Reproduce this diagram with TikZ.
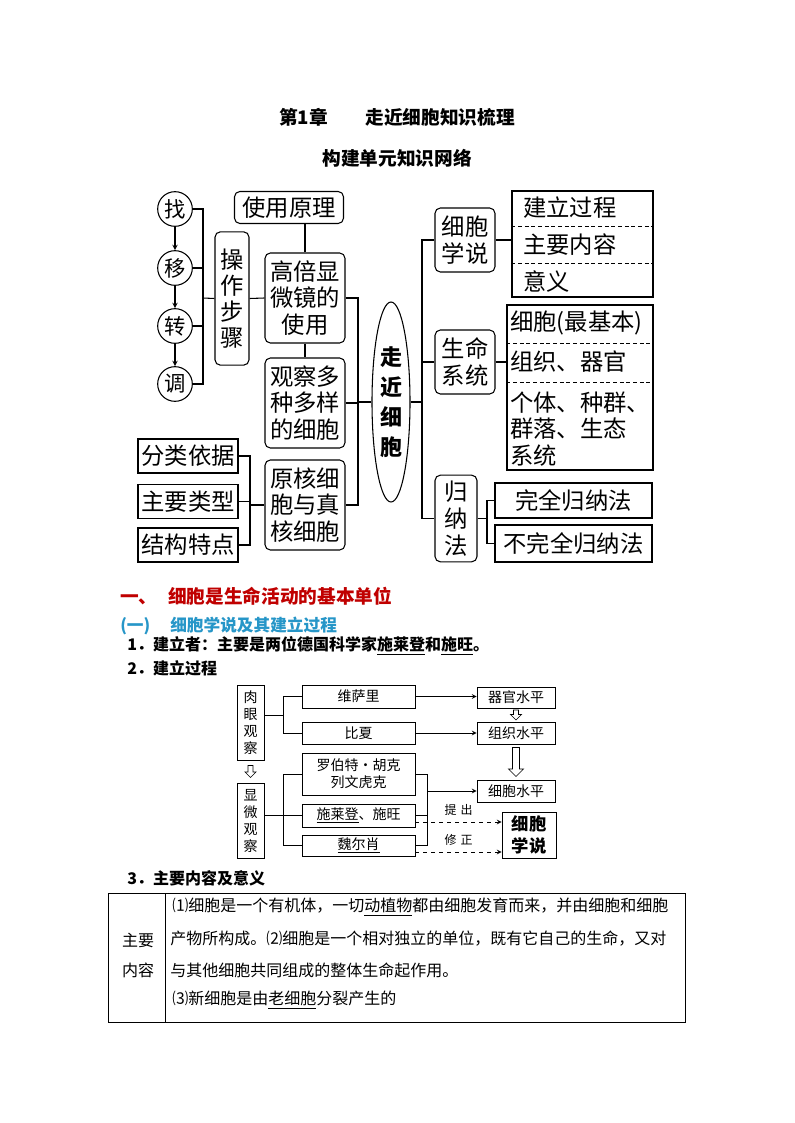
\documentclass[tikz,border=0pt]{standalone}
\usepackage{fontspec}
\setmainfont{Noto Sans CJK SC}
\usetikzlibrary{arrows,calc,shapes.geometric}

\definecolor{headred}{RGB}{192,0,0}
\definecolor{headblue}{RGB}{38,150,200}

\newcommand{\mapfont}{\fontsize{17.5}{20}\selectfont}
\newcommand{\flowfont}{\fontsize{10.5}{12.75}\selectfont}
\newcommand{\parafont}{\fontsize{12}{14}\selectfont}

\begin{document}
\begin{tikzpicture}[x=0.75pt, y=-0.75pt,
  rbox/.style={draw, rounded corners=4pt, line width=0.8pt, inner sep=0pt, align=center, font=\mapfont},
  sbox/.style={draw, line width=0.8pt, inner sep=0pt, align=center, font=\mapfont},
  cbox/.style={draw, circle, line width=0.8pt, minimum size=26pt, inner sep=0pt, font=\fontsize{16}{16}\selectfont},
  mapt/.style={anchor=west, inner sep=0pt, align=left, font=\mapfont},
  link/.style={line width=0.8pt},
  sep/.style={line width=0.7pt, dash pattern=on 3pt off 2pt},
  fbox/.style={draw, line width=0.6pt, inner sep=0pt, align=center, font=\flowfont},
  flink/.style={line width=0.6pt},
  farrow/.style={->, >=stealth, line width=0.6pt},
  para/.style={anchor=west, inner sep=0pt, font=\parafont},
  pics/dnarrow/.style n args={3}{code={
    \draw[line width=0.5pt, fill=white] (-#2,-#1) -- (#2,-#1) -- (#2,#1-#3) -- (#3,#1-#3)
      -- (0,#1) -- (-#3,#1-#3) -- (-#2,#1-#3) -- cycle;
  }}
]
\path[fill=white] (0,0) rectangle (794,1123);

% Titles
\node[font=\bfseries\fontsize{14}{14}\selectfont] (title) at (397,117) {第1章\hspace{28pt}走近细胞知识梳理};
\node[font=\bfseries\fontsize{14}{14}\selectfont] (subtitle) at (397,158) {构建单元知识网络};

% Steps on the left
\node[cbox] (zhao) at (175,209) {找};
\node[cbox] (yi) at (175,268) {移};
\node[cbox] (zhuan) at (175,326) {转};
\node[cbox] (tiao) at (175,384) {调};
\draw[link, ->, >=stealth] (zhao) -- (yi);
\draw[link, ->, >=stealth] (yi) -- (zhuan);
\draw[link, ->, >=stealth] (zhuan) -- (tiao);
\coordinate (jl) at (203,298);
\foreach \n in {zhao,yi,zhuan,tiao}
  \draw[link] (\n.east) -| (jl);
\node[rbox, minimum width=25.5pt, minimum height=100pt, font=\fontsize{17.5}{19.5}\selectfont] (steps) at (232,298.5) {操\\作\\步\\骤};
\draw[link] (jl) -- (steps.west);

% Microscope column
\node[rbox, minimum width=81.75pt, minimum height=24pt] (principle) at (289,207.5) {使用原理};
\node[rbox, minimum width=60pt, minimum height=67.5pt] (hipower) at (305,298) {高倍显\\微镜的\\使用};
\node[rbox, minimum width=60pt, minimum height=67.5pt] (observe) at (305,403) {观察多\\种多样\\的细胞};
\node[rbox, minimum width=60pt, minimum height=67.5pt] (prokary) at (305,505) {原核细\\胞与真\\核细胞};
\draw[link] (steps.east) -- (hipower.west);
\draw[link] (hipower.north) -- (hipower.north |- principle.south);
\draw[link] (hipower.south) -- (observe.north);

% Cell types
\node[sbox, minimum width=75pt, minimum height=25.5pt] (basis) at (188,456) {分类依据};
\node[sbox, minimum width=75pt, minimum height=25.5pt] (types) at (188,501.5) {主要类型};
\node[sbox, minimum width=75pt, minimum height=25.5pt] (feature) at (188,545) {结构特点};
\coordinate (jp) at (250,505);
\foreach \n in {basis,types,feature}
  \draw[link] (\n.east) -| (jp);
\draw[link] (jp) -- (prokary.west);

% Centre
\node[ellipse, draw, line width=0.8pt, minimum width=28.5pt, minimum height=150pt, inner sep=0pt, align=center,
  font=\bfseries\fontsize{16.5}{22.5}\selectfont] (core) at (391,402) {走\\近\\细\\胞};
\coordinate (jm) at (358,402);
\foreach \n in {hipower,observe,prokary}
  \draw[link] (\n.east) -| (jm);
\draw[link] (jm) -- (core.west);

% Right branches
\coordinate (jr) at (422,402);
\draw[link] (core.east) -- (jr);
\node[rbox, minimum width=45pt, minimum height=48pt] (theory) at (465,240) {细胞\\学说};
\node[rbox, minimum width=45pt, minimum height=48pt] (system) at (465,362) {生命\\系统};
\node[rbox, minimum width=31.5pt, minimum height=65pt] (induct) at (456,518.5) {归\\纳\\法};
\foreach \n in {theory,system,induct}
  \draw[link] (jr) |- (\n.west);

\node[sbox, minimum width=105.75pt, minimum height=79.5pt] (grp1) at (582.5,244) {};
\draw[link] (theory.east) -- (theory.east -| grp1.west);
\foreach \y in {226,263}
  \draw[sep] (grp1.west |- 0,\y) -- (grp1.east |- 0,\y);
\node[mapt] (build) at (523,208) {建立过程};
\node[mapt] (content) at (523,245) {主要内容};
\node[mapt] (meaning) at (523,282) {意义};

\node[sbox, minimum width=109.5pt, minimum height=123.75pt] (grp2) at (580,387.5) {};
\draw[link] (system.east) -- (system.east -| grp2.west);
\foreach \y in {343,382}
  \draw[sep] (grp2.west |- 0,\y) -- (grp2.east |- 0,\y);
\node[mapt] (cellbase) at (510,323) {细胞(最基本)};
\node[mapt] (organs) at (510,362) {组织、器官};
\node[mapt] (higher) at (510,429) {个体、种群、\\群落、生态\\系统};

\node[sbox, minimum width=117.75pt, minimum height=26.25pt] (full) at (573.5,500.5) {完全归纳法};
\node[sbox, minimum width=117.75pt, minimum height=27.75pt] (partial) at (573.5,543.5) {不完全归纳法};
\coordinate (jn) at (487,518.5);
\draw[link] (induct.east) -- (jn);
\draw[link] (jn) |- (full.west);
\draw[link] (jn) |- (partial.west);

% Headings
\node[anchor=west, inner sep=0pt, text=headred, font=\bfseries\fontsize{14}{14}\selectfont] (sec1) at (120,596) {一、\hspace{8pt}细胞是生命活动的基本单位};
\node[anchor=west, inner sep=0pt, text=headblue, font=\bfseries\fontsize{12.5}{14}\selectfont] (sec11) at (120,626) {(一)\hspace{15pt}细胞学说及其建立过程};
\node[para, font=\bfseries\parafont] (item1) at (127,646) {1．建立者：主要是两位德国科学家\underline{施莱登}和\underline{施旺}。};
\node[para, font=\bfseries\parafont] (item2) at (127,668) {2．建立过程};

% Flow of discovery
\node[fbox, minimum width=20.25pt, minimum height=56.25pt] (eye) at (250.5,722.5) {肉\\眼\\观\\察};
\node[fbox, minimum width=20.25pt, minimum height=56.25pt] (micro) at (250.5,820.5) {显\\微\\观\\察};
\pic at ($(eye.south)!.5!(micro.north)$) {dnarrow={6}{2.5}{5.5}};

\node[fbox, minimum width=84.75pt, minimum height=17.25pt] (vesal) at (358.5,696.5) {维萨里};
\node[fbox, minimum width=84.75pt, minimum height=16.5pt] (bichat) at (358.5,733) {比夏};
\node[fbox, minimum width=84.75pt, minimum height=31.5pt] (hooke) at (358.5,774) {罗伯特・胡克\\列文虎克};
\node[fbox, minimum width=84.75pt, minimum height=17.25pt] (schl) at (358.5,815.5) {\underline{施莱登}、施旺};
\node[fbox, minimum width=84.75pt, minimum height=15.75pt] (virch) at (358.5,845.5) {\underline{魏尔肖}};

\coordinate (je) at (283,715);
\draw[flink] (je -| eye.east) -- (je);
\draw[flink] (vesal.west) -| (je);
\draw[flink] (bichat.west) -| (je);
\coordinate (jmc) at (283,815.5);
\draw[flink] (jmc -| micro.east) -- (jmc);
\foreach \n in {hooke,schl,virch}
  \draw[flink] (\n.west) -| (jmc);

\node[fbox, minimum width=58.5pt, minimum height=15.75pt] (organ) at (516,697.5) {器官水平};
\node[fbox, minimum width=58.5pt, minimum height=16.5pt] (tissue) at (516,733) {组织水平};
\node[fbox, minimum width=58.5pt, minimum height=16.5pt] (cellv) at (516,791) {细胞水平};
\node[fbox, minimum width=40.5pt, minimum height=34.5pt, font=\bfseries\fontsize{13}{17}\selectfont] (ctheory) at (529,835) {细胞\\学说};
\pic at ($(organ.south)!.5!(tissue.north)$) {dnarrow={5}{2.5}{5.5}};
\pic at ($(tissue.south)!.5!(cellv.north)$) {dnarrow={14.5}{3.5}{7.5}};

\draw[farrow] (vesal.east) -- (vesal.east -| organ.west);
\draw[farrow] (bichat.east) -- (tissue.west);
\coordinate (jc) at (427,791);
\foreach \n in {hooke,schl,virch}
  \draw[flink] (\n.east) -| (jc);
\draw[farrow] (jc) -- (cellv.west);
\draw[farrow, dashed] (schl.east |- 0,822) -- (ctheory.west |- 0,822)
  node[midway, above=1pt, font=\fontsize{9}{9}\selectfont] {提\hspace{3pt}出};
\draw[farrow, dashed] (virch.east |- 0,852) -- (ctheory.west |- 0,852)
  node[midway, above=1pt, font=\fontsize{9}{9}\selectfont] {修\hspace{3pt}正};

% Main content table
\node[para, font=\bfseries\parafont] (item3) at (127,878) {3．主要内容及意义};
\draw[line width=0.6pt] (108,893) rectangle (685,1022);
\draw[line width=0.6pt] (165,893) -- (165,1022);
\node[font=\parafont] (lab1) at (138,940) {主要};
\node[font=\parafont] (lab2) at (138,970) {内容};
\node[para] (row1) at (172,907) {⑴细胞是一个有机体，一切\underline{动植物}都由细胞发育而来，并由细胞和细胞};
\node[para] (row2) at (170,939) {产物所构成。⑵细胞是一个相对独立的单位，既有它自己的生命，又对};
\node[para] (row3) at (170,970) {与其他细胞共同组成的整体生命起作用。};
\node[para] (row4) at (172,1000) {⑶新细胞是由\underline{老细胞}分裂产生的};
\end{tikzpicture}
\end{document}
